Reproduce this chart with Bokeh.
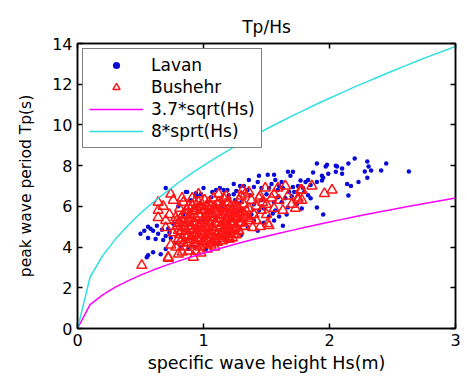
from bokeh.plotting import figure
from bokeh.models import Range1d, LinearAxis, FixedTicker, Legend, LegendItem, CustomJSTickFormatter
from bokeh.embed import file_html
from bokeh.resources import INLINE

# ---------------- data ----------------
hs_curve = [0.0, 0.1, 0.2, 0.3, 0.4, 0.5, 0.6, 0.7, 0.8, 0.9, 1.0, 1.1, 1.2, 1.3, 1.4, 1.5,
            1.6, 1.7, 1.8, 1.9, 2.0, 2.1, 2.2, 2.3, 2.4, 2.5, 2.6, 2.7, 2.8, 2.9, 3.0]
tp_low = [0.0, 1.17, 1.65, 2.03, 2.34, 2.62, 2.87, 3.10, 3.31, 3.51, 3.70, 3.88, 4.05, 4.22, 4.38, 4.53,
          4.68, 4.82, 4.96, 5.10, 5.23, 5.36, 5.49, 5.61, 5.73, 5.85, 5.97, 6.08, 6.19, 6.30, 6.41]
tp_high = [0.0, 2.53, 3.58, 4.38, 5.06, 5.66, 6.20, 6.69, 7.16, 7.59, 8.00, 8.39, 8.76, 9.12, 9.47, 9.80,
           10.12, 10.43, 10.73, 11.03, 11.31, 11.59, 11.87, 12.13, 12.39, 12.65, 12.90, 13.15, 13.39, 13.62, 13.86]

lavan_hs = [1.90, 1.98, 1.97, 2.05, 2.06, 2.10, 2.15, 2.20, 2.30, 2.31, 2.33, 2.28, 2.45, 2.41, 2.63, 1.87,
            1.94, 1.95, 1.99, 2.05, 2.10, 1.83, 1.81, 1.90, 1.94, 2.14, 2.17, 2.23, 2.30, 2.15, 1.79, 1.85,
            1.83, 1.90, 1.95, 1.78,
            1.44, 1.51, 1.56, 1.57, 1.67, 1.71, 1.69, 1.43, 1.32, 1.29, 1.77, 1.52, 1.59, 1.63, 1.71, 1.59,
            1.65, 1.56, 1.67, 1.57, 1.55, 1.48, 1.44, 1.52, 1.56, 1.63, 1.43, 1.12, 1.35, 1.37, 1.07, 1.16, 1.20,
            0.70, 0.86, 0.94, 0.98, 0.56, 0.50, 0.56, 0.64, 0.70, 0.63, 0.60, 0.56, 0.60, 0.66, 0.70, 0.72,
            0.76, 0.67, 0.74,
            0.87, 0.95, 1.10, 1.13, 1.19, 1.24, 1.06, 1.25, 1.30, 1.40, 1.46, 1.50, 1.62, 1.70, 1.74, 1.38,
            1.60, 1.66, 1.48, 1.40, 1.72, 1.54, 1.62, 1.75, 1.36, 1.24, 1.00, 0.90, 1.03, 0.80, 0.84, 0.78,
            0.82, 0.88, 0.93, 1.02, 1.20, 1.30, 1.35, 1.10, 1.00, 0.95, 1.15, 1.28, 1.46, 1.26, 1.40, 1.60,
            1.85, 1.80, 1.68, 0.53, 0.58, 0.62, 0.55, 0.68, 0.73]
lavan_tp = [8.10, 8.05, 7.96, 8.00, 7.96, 7.86, 8.10, 8.35, 8.20, 7.96, 7.76, 7.71, 8.10, 7.76, 7.71, 7.66,
            7.50, 7.40, 7.60, 7.70, 7.60, 7.30, 7.20, 7.20, 7.27, 7.10, 7.00, 7.20, 7.40, 6.53, 6.90, 6.40,
            6.55, 5.95, 5.60, 5.90,
            7.50, 7.55, 7.55, 7.30, 7.70, 7.70, 7.50, 7.20, 7.00, 7.00, 7.27, 6.90, 6.80, 6.90, 6.95, 6.45,
            6.40, 6.20, 5.95, 5.80, 5.65, 5.90, 5.80, 5.50, 5.30, 5.05, 4.80, 4.20, 6.80, 6.55, 6.70, 6.80, 6.55,
            6.90, 6.70, 6.65, 6.60, 5.00, 4.65, 4.45, 4.65, 4.55, 5.05, 4.80, 3.60, 3.75, 3.65, 3.90, 4.90,
            5.15, 4.85, 4.45,
            6.70, 6.50, 6.80, 6.90, 6.80, 6.60, 6.45, 6.30, 6.20, 6.10, 6.30, 6.60, 6.20, 6.50, 6.10, 5.60,
            5.50, 5.60, 5.20, 5.30, 6.70, 7.10, 7.20, 7.00, 7.30, 7.10, 6.90, 6.30, 6.20, 6.00, 5.60, 4.20,
            4.00, 3.90, 4.00, 3.90, 4.30, 4.60, 5.00, 5.50, 5.30, 4.80, 6.00, 5.80, 6.90, 6.75, 6.95, 7.00,
            7.05, 6.70, 6.70, 4.80, 4.90, 4.40, 3.50, 4.35, 4.70]

bushehr_hs = [1.86, 1.96, 2.02, 1.78, 1.78, 1.31, 1.33, 1.49, 1.45, 1.47, 1.59, 1.65, 1.77, 1.75, 1.73, 1.63,
              1.52, 1.39, 1.23, 1.15, 0.64, 0.64, 0.64, 0.76, 0.84, 0.70, 0.78, 0.80, 0.72, 0.51, 0.83, 0.92,
              0.82, 0.74, 1.75, 1.51,
              0.78, 0.80, 0.82, 0.84, 0.86, 0.88, 0.85, 0.87, 0.88, 0.90, 0.90, 0.91, 0.92, 0.93, 0.94, 0.95,
              0.96, 0.97, 0.98, 0.99, 1.00, 1.00, 1.01, 1.02, 1.03, 1.04, 1.05, 1.06, 1.07, 1.08, 1.09, 1.10,
              1.11, 1.12, 1.13, 1.14, 1.15, 1.16, 1.17, 1.18, 1.19, 1.20, 1.21, 1.22, 1.23, 1.24, 1.25, 1.26,
              1.27, 1.28, 1.30, 1.31, 1.32, 1.34, 1.36, 1.38, 1.40, 1.42, 1.44, 0.76, 0.79, 0.81, 0.83, 0.86,
              0.89, 0.92, 0.95, 0.97, 1.00, 1.02, 1.05, 1.08, 1.10, 1.12, 1.14, 1.16, 1.19, 1.22, 1.24, 1.28,
              1.33, 1.37, 0.94, 0.98, 1.03, 1.06, 0.88, 0.93, 1.01, 1.09, 1.15, 1.26, 1.30, 1.18, 1.08, 0.99,
              0.91, 1.46, 1.50, 1.54, 1.42, 0.73, 0.70, 0.68, 0.74, 0.96, 1.12, 1.36, 1.56, 1.60, 1.50, 1.45,
              1.56, 1.67, 1.70, 1.21, 0.80, 0.72,
              0.84, 0.93, 0.99, 1.06, 1.11, 0.83, 0.90, 0.95, 1.03, 1.08, 1.15, 1.20, 0.81, 0.88, 0.93, 0.99,
              1.04, 1.11, 1.17, 1.24, 0.80, 0.86, 0.92, 0.97, 1.04, 1.09, 1.16, 1.21, 1.28, 0.79, 0.85, 0.90,
              0.97, 1.01, 1.07, 1.14, 1.19, 1.26, 1.32, 0.81, 0.87, 0.92, 0.99, 1.05, 1.10, 1.17, 1.22, 1.29,
              0.82, 0.89, 0.94, 1.01, 1.06, 1.13, 1.18, 1.25, 1.31, 1.36, 0.84, 0.89, 0.96, 1.02, 1.07, 1.14,
              1.20, 1.26, 1.32, 0.87, 0.93, 0.98, 1.05, 1.10, 1.17, 1.23, 1.28, 1.34, 0.91, 0.97, 1.03, 1.09,
              1.15, 1.21, 1.27, 0.96, 1.04, 1.12, 1.19]
bushehr_tp = [7.00, 6.63, 6.80, 6.80, 6.30, 6.80, 6.60, 6.90, 6.50, 6.20, 6.90, 7.00, 6.80, 6.30, 5.90, 5.80,
              5.05, 4.95, 4.45, 4.65, 6.20, 5.80, 5.45, 6.30, 6.20, 4.95, 5.45, 5.15, 3.50, 3.10, 3.75, 3.50,
              4.30, 4.10, 6.40, 5.15,
              4.00, 4.40, 4.80, 5.20, 5.60, 6.00, 4.60, 4.20, 3.80, 4.50, 5.00, 5.40, 5.80, 6.20, 4.10, 4.70,
              5.10, 5.50, 4.40, 4.90, 5.30, 5.80, 6.30, 4.20, 4.60, 5.00, 5.60, 6.00, 4.30, 4.80, 5.20, 5.70,
              6.10, 4.50, 5.00, 5.40, 5.90, 6.40, 4.90, 5.30, 5.80, 6.20, 4.70, 5.10, 5.50, 6.00, 4.90, 5.40,
              5.90, 6.30, 5.20, 5.70, 6.10, 5.50, 5.90, 6.30, 5.60, 6.00, 6.40, 4.70, 5.30, 5.90, 6.40, 4.00,
              4.90, 5.20, 5.90, 4.00, 4.60, 5.50, 4.40, 5.90, 4.60, 5.20, 4.70, 5.60, 4.50, 5.70, 5.20, 4.80,
              5.00, 5.30, 3.80, 3.70, 3.90, 4.10, 5.30, 4.30, 4.30, 4.00, 4.30, 4.60, 6.50, 6.50, 6.40, 6.10,
              6.40, 5.80, 6.10, 6.40, 5.30, 5.60, 5.30, 6.00, 6.60, 6.60, 6.60, 6.70, 6.60, 6.30, 5.60, 5.00,
              5.90, 6.50, 6.10, 4.40, 3.65, 3.45,
              4.22, 4.18, 4.25, 4.20, 4.23, 4.41, 4.38, 4.44, 4.40, 4.37, 4.42, 4.39, 4.61, 4.58, 4.63, 4.60,
              4.57, 4.62, 4.59, 4.64, 4.81, 4.78, 4.83, 4.79, 4.82, 4.77, 4.80, 4.84, 4.78, 5.02, 4.98, 5.03,
              4.99, 5.01, 4.97, 5.04, 5.00, 4.98, 5.02, 5.21, 5.18, 5.23, 5.19, 5.22, 5.17, 5.20, 5.24, 5.18,
              5.42, 5.38, 5.41, 5.39, 5.43, 5.37, 5.40, 5.44, 5.38, 5.41, 5.61, 5.58, 5.62, 5.59, 5.63, 5.57,
              5.60, 5.64, 5.58, 5.81, 5.78, 5.83, 5.79, 5.82, 5.77, 5.80, 5.84, 5.78, 6.01, 5.98, 6.02, 5.99,
              6.03, 5.97, 6.00, 6.21, 6.18, 6.22, 6.19]

x_ticks = [0, 1, 2, 3]
y_ticks = [0, 2, 4, 6, 8, 10, 12, 14]

FONT = "DejaVu Sans"

p = figure(width=467, height=377, output_backend="svg", toolbar_location=None,
           x_range=Range1d(0, 3), y_range=Range1d(0, 14),
           min_border_left=77, min_border_right=12, min_border_top=43, min_border_bottom=49,
           background_fill_color="white", border_fill_color="white")

p.title.text = "Tp/Hs"
p.title.align = "center"
p.title.text_font = FONT
p.title.text_font_size = "17px"
p.title.text_font_style = "normal"
p.title.text_color = "black"
p.title.standoff = 14

p.xgrid.visible = False
p.ygrid.visible = False
p.outline_line_color = "black"
p.outline_line_width = 1.5

def style_axis(ax, ticks, labels=True):
    ax.ticker = FixedTicker(ticks=ticks)
    ax.major_tick_in = 5
    ax.major_tick_out = 0
    ax.minor_tick_in = 0
    ax.minor_tick_out = 0
    ax.axis_line_color = "black"
    ax.axis_line_width = 1.5
    ax.major_tick_line_color = "black"
    ax.major_tick_line_width = 1.5
    ax.major_label_text_font = FONT
    ax.major_label_text_font_size = "16px"
    ax.major_label_text_color = "black"
    if not labels:
        ax.formatter = CustomJSTickFormatter(code="return ''")

style_axis(p.xaxis[0], x_ticks)
style_axis(p.yaxis[0], y_ticks)
p.xaxis[0].axis_label = "specific wave height Hs(m)"
p.yaxis[0].axis_label = "peak wave period Tp(s)"
for ax, size in ((p.xaxis[0], "17.5px"), (p.yaxis[0], "15.5px")):
    ax.axis_label_text_font = FONT
    ax.axis_label_text_font_size = size
    ax.axis_label_text_font_style = "normal"
    ax.axis_label_text_color = "black"
p.xaxis[0].axis_label_standoff = 4
p.yaxis[0].axis_label_standoff = 14
p.yaxis[0].major_label_standoff = 5

top_ax = LinearAxis()
style_axis(top_ax, x_ticks, labels=False)
p.add_layout(top_ax, "above")
right_ax = LinearAxis()
style_axis(right_ax, y_ticks, labels=False)
p.add_layout(right_ax, "right")

r_lav = p.scatter(lavan_hs, lavan_tp, marker="circle", size=4.5, fill_color="#0a0ad8",
                  line_color=None)
r_bus = p.scatter(bushehr_hs, bushehr_tp, marker="triangle", size=10, fill_color=None,
                  line_color="#ff1414", line_width=1.5)
r_low = p.line(hs_curve, tp_low, line_color="#ff00ff", line_width=1.5)
r_high = p.line(hs_curve, tp_high, line_color="#30e0e0", line_width=1.5)

legend = Legend(items=[
    LegendItem(label="Lavan", renderers=[r_lav]),
    LegendItem(label="Bushehr", renderers=[r_bus]),
    LegendItem(label="3.7*sqrt(Hs)", renderers=[r_low]),
    LegendItem(label="8*sprt(Hs)", renderers=[r_high]),
], location="top_left")
legend.margin = 5
legend.padding = 6
legend.spacing = 2
legend.glyph_width = 54
legend.glyph_height = 18
legend.label_height = 18
legend.label_standoff = 8
legend.label_text_font = FONT
legend.label_text_font_size = "17px"
legend.label_text_color = "black"
legend.border_line_color = "black"
legend.border_line_width = 1.5
legend.background_fill_color = "white"
legend.background_fill_alpha = 1
p.add_layout(legend)

open("out.html", "w").write(file_html(p, INLINE))
